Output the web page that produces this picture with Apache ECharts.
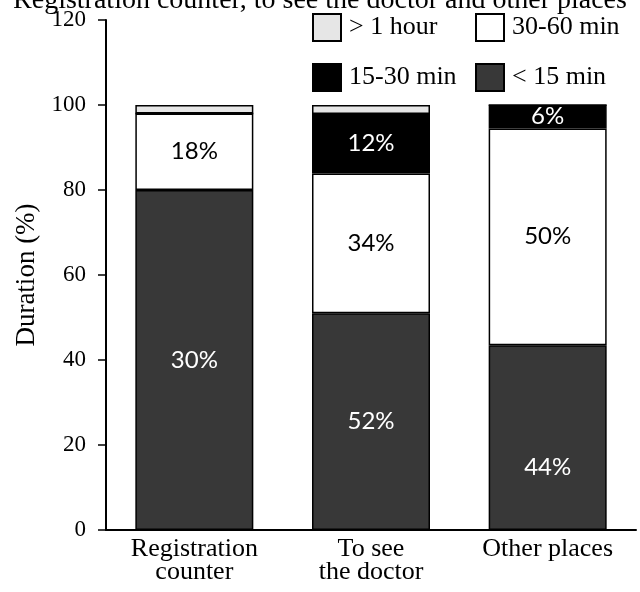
<!DOCTYPE html>
<html><head><meta charset="utf-8">
<script src="https://cdn.jsdelivr.net/npm/echarts@6/dist/echarts.min.js"></script>
<style>html,body{margin:0;padding:0;background:#fff}#c{width:640px;height:592px}</style>
</head><body><div id="c"></div>
<script>
// ---- data ----
const titleText = 'Registration counter, to see the doctor and other places';
const categories = ['Registration\ncounter', 'To see\nthe doctor', 'Other places'];
const seriesNames = ['< 15 min', '30-60 min', '15-30 min', '> 1 hour'];
const under15 = [80, 51, 43.5];
const min30to60 = [18, 32.9, 51];
const min15to30 = [0, 14, 5.5];
const over1h = [2, 2.1, 0];
const labelsUnder15 = ['30%', '52%', '44%'];
const labels30to60 = ['18%', '34%', '50%'];
const labels15to30 = ['', '12%', '6%'];
const yMin = 0, yMax = 120, yStep = 20;

// ---- chart ----
const serif = 'Liberation Serif';
const sans = 'Lato';
const chart = echarts.init(document.getElementById('c'), null, {renderer: 'canvas'});

function barSeries(name, values, color, labels, labelColor, extra) {
  return {
    name: name, type: 'bar', stack: 'total', barWidth: 118,
    data: values.map((v, i) => (extra && extra[i]) ? Object.assign({value: v}, extra[i]) : v),
    itemStyle: {color: color, borderColor: '#000', borderWidth: 1.5},
    label: {
      show: !!labels, position: 'inside', color: labelColor,
      fontFamily: sans, fontSize: 24,
      formatter: p => labels ? labels[p.dataIndex] : ''
    },
    emphasis: {disabled: true}
  };
}

function legendAt(name, left, top) {
  return {
    data: [{name: name, icon: 'rect'}], left: left, top: top, orient: 'horizontal',
    itemWidth: 28, itemHeight: 27, padding: 0,
    textStyle: {fontFamily: serif, fontSize: 26, color: '#000', padding: [0, 0, 0, 3]},
    selectedMode: false
  };
}

chart.setOption({
  animation: false,
  backgroundColor: '#fff',
  title: {
    text: titleText, left: 'center', top: -18,
    textStyle: {fontFamily: serif, fontSize: 28, fontWeight: 'normal', color: '#000'}
  },
  legend: [
    legendAt(seriesNames[3], 312, 13),
    legendAt(seriesNames[1], 475, 13),
    legendAt(seriesNames[2], 312, 63),
    legendAt(seriesNames[0], 475, 63)
  ],
  grid: {left: 106, right: 4, top: 20, bottom: 62},
  xAxis: {
    type: 'category', data: categories, boundaryGap: true,
    axisLine: {lineStyle: {color: '#000', width: 2}},
    axisTick: {show: false},
    axisLabel: {fontFamily: serif, fontSize: 26, lineHeight: 23, color: '#000', margin: 8}
  },
  yAxis: {
    type: 'value', min: yMin, max: yMax, interval: yStep,
    name: 'Duration (%)', nameLocation: 'middle', nameGap: 66,
    nameTextStyle: {fontFamily: serif, fontSize: 27, color: '#000'},
    axisLine: {show: true, lineStyle: {color: '#000', width: 2}},
    axisTick: {show: true, length: 8, lineStyle: {color: '#000', width: 1.5}},
    axisLabel: {fontFamily: serif, fontSize: 23, color: '#000', margin: 20},
    splitLine: {show: false}
  },
  series: [
    barSeries(seriesNames[0], under15, '#383838', labelsUnder15, '#fff', [null, null, {label: {offset: [0, 30]}}]),
    barSeries(seriesNames[1], min30to60, '#ffffff', labels30to60, '#000'),
    barSeries(seriesNames[2], min15to30, '#000000', labels15to30, '#fff'),
    barSeries(seriesNames[3], over1h, '#e6e6e6', null, '#000')
  ]
});
</script>
</body></html>
